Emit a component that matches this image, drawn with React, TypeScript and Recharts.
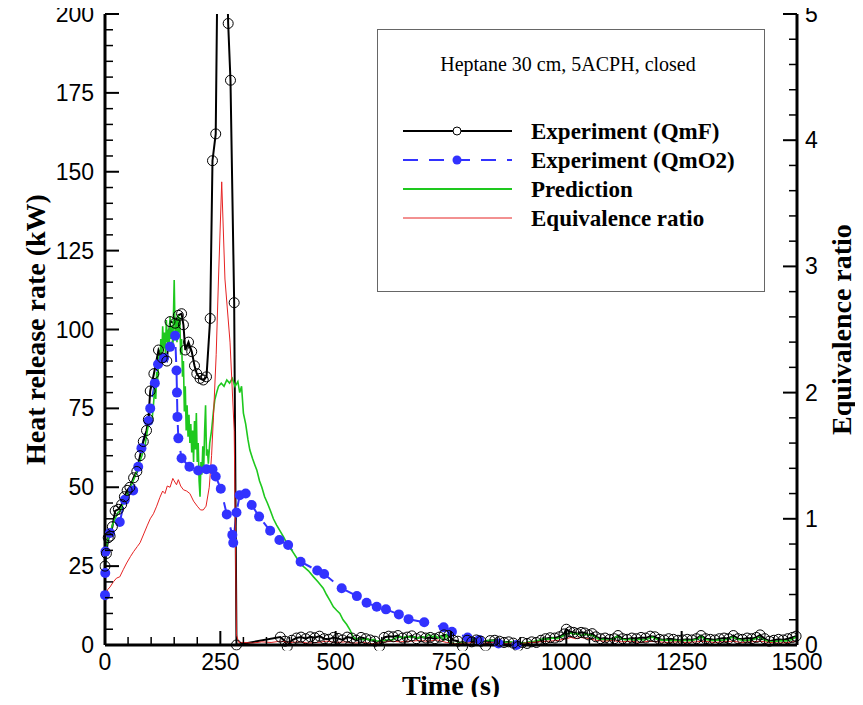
import React from 'react';
import { LineChart, Line, XAxis, YAxis, Legend } from 'recharts';

type P = [number, number];

// Experiment (QmF) — time (s), heat release rate (kW)
const qmfPoints: P[] = [
  [0, 25], [3, 29], [7, 34], [11, 34.5], [16, 37.5], [22, 42.5], [29, 43], [36, 44.5], [42, 47], [48, 49],
  [54, 50], [62, 53], [69, 55], [76, 60], [83, 64.5], [90, 68], [94, 71.5], [98, 80.5], [106, 86], [116, 93.5],
  [124, 91], [134, 90], [141, 102.5], [152, 102], [159, 104.5], [166, 105], [170, 101.5], [174, 93.5], [181, 96], [188, 93],
  [194, 88.5], [199, 86], [206, 84.5], [213, 84], [220, 85], [228, 103.5], [233, 153.5], [240, 162], [250, 300], [267, 197],
  [272, 179], [280, 108.5], [285, 0],
  [380, 2.5], [390, 1.2], [395, -0.5], [405, 1.5], [415, 2.2], [425, 2.5], [435, 2.0], [445, 2.6], [455, 2.3], [465, 2.8],
  [475, 2.0], [485, 1.8], [495, 2.4], [505, 2.1], [515, 1.6], [525, 2.5], [535, 2.2], [545, 1.5], [555, 2.4], [565, 2.0],
  [575, 1.6], [585, 1.2], [595, -0.5], [605, 2.4], [615, 2.8], [625, 2.6], [635, 3.0], [645, 2.2], [655, 2.5], [665, 2.9],
  [675, 2.0], [685, 2.6], [695, 2.2], [705, 2.4], [715, 2.0], [725, 2.5], [735, 3.2], [745, 3.0], [755, 1.5], [765, 1.2],
  [775, -0.5], [785, 1.5], [795, 1.0], [805, 1.6], [815, 1.2], [825, -0.3], [835, 1.4], [845, 1.5], [855, 1.2], [865, 0.8],
  [875, 1.0], [885, 0.6], [895, -0.5], [905, 0.8], [915, 0.5], [925, 1.0], [935, 0.8], [945, 1.5], [955, 2.0], [965, 2.3],
  [975, 2.2], [985, 2.6], [995, 3.5], [1000, 5.0], [1008, 4.2], [1016, 4.0], [1024, 3.6], [1032, 4.0], [1040, 3.8], [1048, 3.2],
  [1056, 3.6], [1064, 2.6], [1074, 2.0], [1084, 2.2], [1094, 1.8], [1104, 2.0], [1112, 3.0], [1122, 2.0], [1132, 1.8], [1142, 2.2],
  [1152, 2.0], [1162, 2.4], [1172, 2.2], [1182, 2.8], [1192, 2.6], [1202, 1.8], [1212, 1.6], [1222, 2.0], [1232, 1.8], [1242, 1.5],
  [1252, 1.6], [1262, 1.8], [1272, 1.6], [1282, 2.0], [1292, 3.0], [1302, 2.0], [1312, 1.8], [1322, 1.6], [1332, 2.0], [1342, 2.2],
  [1352, 2.0], [1362, 3.0], [1372, 2.0], [1382, 1.8], [1392, 2.2], [1402, 2.0], [1412, 2.4], [1420, 3.2], [1430, 2.0], [1440, 1.2],
  [1450, 1.5], [1460, 1.8], [1470, 1.6], [1480, 2.0], [1490, 2.4], [1498, 2.8],
];

// Experiment (QmO2) — time (s), heat release rate (kW)
const qmo2Points: P[] = [
  [0, 15.8], [0.5, 22.8], [1, 29.6], [11, 35.5], [32, 39], [43, 46], [61, 49], [72, 56.5], [79, 62.4], [94, 71],
  [98, 75], [108, 83], [115, 89], [128, 91], [141, 94.5], [152, 98], [155, 87], [156, 80], [157, 72.3], [159, 65.5],
  [166, 59.2], [183, 56.5], [202, 55.3], [220, 55.7], [233, 55.7], [240, 53.4], [251, 49.5], [264, 41.4], [276, 34.9], [278, 32.4],
  [285, 42], [292, 47.5], [305, 48], [318, 44.4], [334, 40.7], [358, 36.2], [378, 33.3], [397, 31.7], [424, 26.4], [460, 23.6],
  [475, 22.5], [513, 18], [546, 15.5], [567, 13.4], [589, 12.1], [609, 11.3], [637, 9.7], [658, 8.2], [692, 7.2], [734, 5.6],
  [752, 4.2], [786, 2.4], [811, 1.6], [853, 0.5], [892, 0],
];

// Prediction — time (s), heat release rate (kW)
const predictionPoints: P[] = [
  [0, 22], [2, 30], [5, 33], [10, 35], [16, 38], [22, 40], [28, 42], [33, 42.5], [40, 45], [46, 47],
  [52, 49], [58, 51], [64, 53], [69, 55], [75, 58], [80, 60], [87, 63.5], [92, 68], [97, 72], [101, 70],
  [105, 76], [108, 82], [110, 78], [112, 86.5], [114, 84], [117, 92], [119, 88], [121, 97], [123, 90], [125, 101],
  [127, 94], [129, 99], [131, 92], [133, 103], [135, 96], [137, 100], [139, 93], [141, 104], [143, 97], [145, 101],
  [147, 95], [150, 115.7], [152, 98], [154, 103], [156, 96], [158, 104.6], [160, 99], [162, 104], [164, 92], [166, 97],
  [168, 85], [170, 90], [172, 74], [174, 82], [176, 68], [178, 76], [180, 66], [182, 73], [184, 64], [186, 70],
  [188, 61], [190, 68], [192, 58], [194, 71], [196, 62], [198, 73.5], [200, 58], [202, 64], [204, 52], [206, 47],
  [208, 58], [210, 54], [212, 63], [214, 56], [216, 68], [218, 76], [220, 60], [222, 62], [224, 57.5], [227, 64],
  [231, 68], [235, 74], [238, 77.7], [242, 80], [246, 82], [252, 83], [258, 82], [264, 84], [270, 83], [276, 84.5],
  [282, 82], [288, 83.5], [292, 80], [296, 82], [300, 73.5], [305, 70], [310, 65], [314, 61.8], [320, 59], [325, 57],
  [329, 55.5], [335, 52], [340, 50], [346, 47], [352, 45], [358, 42.8], [365, 40], [372, 38], [380, 36], [387, 34.3],
  [395, 32], [405, 30], [416, 27.5], [425, 25.5], [433, 24.5], [441, 23.5], [452, 21.6], [462, 20], [473, 18], [480, 16],
  [488, 14], [495, 12.1], [502, 11], [509, 10], [516, 8], [524, 6.5], [531, 4.8], [538, 2.6],
  [545, 1.8], [552, 2.2], [560, 1.6], [568, 2.0], [575, 1.4], [582, 1.8], [590, 1.2], [598, 1.5], [606, 1.3], [614, 1.8],
  [622, 1.5], [630, 2.2], [638, 2.6], [646, 2.2], [654, 2.8], [662, 2.4], [670, 2.6], [678, 2.2], [686, 2.7], [694, 2.3],
  [702, 3.4], [710, 2.6], [716, 3.0], [722, 2.2], [728, 2.8], [734, 1.5], [740, 3.2], [746, 1.0], [752, 0.6], [760, 0.4],
  [770, 0.8], [780, 0.6], [790, 1.6], [798, 1.8], [806, 1.2], [814, 1.6], [822, 1.0], [830, 1.5], [840, 1.4], [850, 1.6],
  [860, 1.2], [870, 0.8], [880, 1.0], [890, 0.6], [900, 0.8], [910, 0.6], [920, 1.0], [930, 1.2], [940, 1.5], [950, 2.0],
  [960, 1.8], [970, 2.2], [980, 2.0], [990, 2.6], [1000, 3.5], [1008, 3.8], [1016, 3.4], [1024, 3.6], [1032, 3.0], [1040, 3.4],
  [1048, 3.2], [1056, 3.0], [1064, 2.4], [1072, 1.6], [1080, 1.8], [1090, 1.5], [1100, 1.8], [1110, 2.8], [1118, 2.0], [1128, 1.6],
  [1138, 1.8], [1148, 1.5], [1158, 1.8], [1168, 1.6], [1178, 2.0], [1186, 2.5], [1196, 1.8], [1206, 1.5], [1216, 1.6], [1226, 1.4],
  [1236, 1.5], [1246, 1.3], [1256, 1.5], [1266, 1.4], [1276, 1.6], [1286, 2.0], [1292, 2.8], [1300, 1.8], [1310, 1.5], [1320, 1.4],
  [1330, 1.6], [1340, 1.5], [1350, 1.8], [1360, 2.5], [1368, 2.0], [1378, 1.6], [1388, 1.4], [1398, 1.6], [1408, 1.8], [1418, 2.5],
  [1426, 1.8], [1436, 1.2], [1446, 1.0], [1456, 1.2], [1466, 1.4], [1476, 1.3], [1486, 1.6], [1494, 2.2], [1500, 2.6],
];

// Equivalence ratio — time (s), ratio (right axis)
const ratioPoints: P[] = [
  [0, 0.28], [2, 0.38], [6, 0.44], [11, 0.46], [18, 0.5], [25, 0.53], [32, 0.54], [40, 0.6], [47, 0.65], [55, 0.7],
  [62, 0.74], [70, 0.78], [76, 0.81], [84, 0.88], [92, 0.95], [98, 1.0], [105, 1.04], [112, 1.1], [119, 1.17], [125, 1.22],
  [130, 1.2], [135, 1.26], [141, 1.25], [147, 1.32], [150, 1.3], [155, 1.27], [159, 1.31], [164, 1.26], [170, 1.23], [177, 1.22],
  [184, 1.2], [192, 1.14], [200, 1.1], [207, 1.07], [213, 1.07], [219, 1.1], [226, 1.25], [231, 1.5], [235, 1.8], [241, 2.3],
  [246, 2.9], [253, 3.67], [260, 2.9], [271, 2.4], [280, 1.7], [283, 0.8], [285, 0.08], [290, 0.02],
  [300, 0.02], [320, 0.015], [340, 0.025], [360, 0.02], [380, 0.03], [400, 0.02], [420, 0.025], [440, 0.015], [460, 0.02], [480, 0.03],
  [500, 0.02], [520, 0.025], [540, 0.015], [560, 0.02], [580, 0.01], [600, 0.02], [620, 0.03], [640, 0.025], [660, 0.03], [680, 0.035],
  [700, 0.03], [720, 0.04], [740, 0.02], [760, 0.01], [780, 0.015], [800, 0.02], [820, 0.015], [840, 0.02], [860, 0.01], [880, 0.015],
  [900, 0.01], [920, 0.02], [940, 0.025], [960, 0.03], [980, 0.035], [1000, 0.05], [1010, 0.06], [1020, 0.05], [1030, 0.06], [1040, 0.055],
  [1050, 0.05], [1060, 0.04], [1080, 0.03], [1100, 0.035], [1120, 0.025], [1140, 0.03], [1160, 0.02], [1180, 0.03], [1200, 0.025], [1220, 0.02],
  [1240, 0.025], [1260, 0.02], [1280, 0.025], [1300, 0.03], [1320, 0.02], [1340, 0.025], [1360, 0.03], [1380, 0.02], [1400, 0.025], [1420, 0.03],
  [1440, 0.02], [1460, 0.015], [1480, 0.02], [1500, 0.03],
];

const xTicks = [
  0, 50, 100, 150, 200, 250, 300, 350, 400, 450, 500, 550, 600, 650, 700, 750, 800, 850, 900, 950,
  1000, 1050, 1100, 1150, 1200, 1250, 1300, 1350, 1400, 1450, 1500,
];
const leftTicks = [
  0, 5, 10, 15, 20, 25, 30, 35, 40, 45, 50, 55, 60, 65, 70, 75, 80, 85, 90, 95, 100,
  105, 110, 115, 120, 125, 130, 135, 140, 145, 150, 155, 160, 165, 170, 175, 180, 185, 190, 195, 200,
];
const rightTicks = [
  0, 0.2, 0.4, 0.6, 0.8, 1, 1.2, 1.4, 1.6, 1.8, 2, 2.2, 2.4, 2.6, 2.8, 3, 3.2, 3.4, 3.6, 3.8,
  4, 4.2, 4.4, 4.6, 4.8, 5,
];

const legendTitle = 'Heptane 30 cm, 5ACPH, closed';
const names = ['Experiment (QmF)', 'Experiment (QmO2)', 'Prediction', 'Equivalence ratio'];

const toRows = (pts: P[]) => pts.map(([t, v]) => ({ t, v }));
const qmfRows = toRows(qmfPoints);
const qmo2Rows = toRows(qmo2Points);
const predictionRows = toRows(predictionPoints);
const ratioRows = toRows(ratioPoints);

const SANS = '"Liberation Sans", Arial, sans-serif';
const SERIF = '"Liberation Serif", "Times New Roman", serif';
const BLUE = '#3232ff';
const GREEN = '#1ec81e';
const RED = '#e62222';
const DASH = '15 11';

const isMult = (v: number, step: number) => Math.abs(v / step - Math.round(v / step)) < 1e-6;

function LeftTick(props: any) {
  const { x, y, payload } = props;
  const v = payload.value;
  const major = isMult(v, 25);
  return (
    <g>
      <line x1={x} y1={y} x2={x + (major ? 14 : 8)} y2={y} stroke="#000" strokeWidth={major ? 2 : 1.5} />
      {major && (
        <text x={x - 11} y={y} dy={8} textAnchor="end" fontSize={23} fontFamily={SANS} fill="#000">
          {v}
        </text>
      )}
    </g>
  );
}

function RightTick(props: any) {
  const { x, y, payload } = props;
  const v = payload.value;
  const major = isMult(v, 1);
  return (
    <g>
      <line x1={x} y1={y} x2={x - (major ? 14 : 8)} y2={y} stroke="#000" strokeWidth={major ? 2 : 1.5} />
      {major && (
        <text x={x + 8} y={y} dy={8} textAnchor="start" fontSize={23} fontFamily={SANS} fill="#000">
          {Math.round(v)}
        </text>
      )}
    </g>
  );
}

function BottomTick(props: any) {
  const { x, y, payload } = props;
  const v = payload.value;
  const major = isMult(v, 250);
  return (
    <g>
      <line x1={x} y1={y} x2={x} y2={y - (major ? 14 : 8)} stroke="#000" strokeWidth={major ? 2 : 1.5} />
      {major && (
        <text x={x} y={y + 25} textAnchor="middle" fontSize={23} fontFamily={SANS} fill="#000">
          {v}
        </text>
      )}
    </g>
  );
}

function LeftTitle(props: any) {
  const vb = props.viewBox || { x: 0, y: 0, width: 0, height: 0 };
  const cx = vb.x + 35;
  const cy = vb.y + vb.height / 2;
  return (
    <text x={cx} y={cy} dy={10} transform={`rotate(-90 ${cx} ${cy})`} textAnchor="middle"
      fontFamily={SERIF} fontWeight="bold" fontSize={28} fill="#000">
      Heat release rate (kW)
    </text>
  );
}

function RightTitle(props: any) {
  const vb = props.viewBox || { x: 0, y: 0, width: 0, height: 0 };
  const cx = vb.x + 44;
  const cy = vb.y + vb.height / 2;
  return (
    <text x={cx} y={cy} dy={10} transform={`rotate(-90 ${cx} ${cy})`} textAnchor="middle"
      fontFamily={SERIF} fontWeight="bold" fontSize={28} fill="#000">
      Equivalence ratio
    </text>
  );
}

function BottomTitle(props: any) {
  const vb = props.viewBox || { x: 0, y: 0, width: 0, height: 0 };
  const cx = vb.x + vb.width / 2;
  const cy = vb.y + 42;
  return (
    <text x={cx} y={cy} dy={8} textAnchor="middle" fontFamily={SERIF} fontWeight="bold" fontSize={28} fill="#000">
      Time (s)
    </text>
  );
}

const legendStyles = [
  { color: '#000', width: 2, dash: undefined as string | undefined, marker: 'open' },
  { color: BLUE, width: 2, dash: DASH, marker: 'filled' },
  { color: GREEN, width: 2, dash: undefined, marker: 'none' },
  { color: RED, width: 1, dash: undefined, marker: 'none' },
];

function LegendBox() {
  return (
    <svg width={388} height={263} style={{ display: 'block' }}>
      <rect x={0.5} y={0.5} width={387} height={262} fill="#fff" stroke="#666" strokeWidth={1} />
      <text x={191} y={42} textAnchor="middle" fontFamily={SERIF} fontSize={20} fill="#000">
        {legendTitle}
      </text>
      {names.map((name, i) => {
        const s = legendStyles[i];
        const cy = 102 + i * 29;
        return (
          <g key={name}>
            <line x1={26} x2={135} y1={cy} y2={cy} stroke={s.color} strokeWidth={s.width} strokeDasharray={s.dash} />
            {s.marker === 'open' && <circle cx={80} cy={cy} r={4} fill="#fff" stroke="#000" strokeWidth={1} />}
            {s.marker === 'filled' && <circle cx={80} cy={cy} r={4.5} fill={BLUE} stroke="none" />}
            <text x={154} y={cy} dy={8} fontFamily={SERIF} fontWeight="bold" fontSize={23} fill="#000">
              {name}
            </text>
          </g>
        );
      })}
    </svg>
  );
}

export default function App() {
  return (
    <div style={{ margin: '-8px 0 -8px -8px', width: 863, height: 705 }}>
      <LineChart width={863} height={705} margin={{ top: 14, right: 0, bottom: 0, left: 0 }}>
        <XAxis
          dataKey="t"
          type="number"
          domain={[0, 1500]}
          ticks={xTicks}
          interval={0}
          allowDataOverflow
          height={60}
          tickSize={0}
          tickMargin={0}
          tickLine={false}
          tick={<BottomTick />}
          axisLine={{ stroke: '#000', strokeWidth: 3 }}
          label={BottomTitle}
        />
        <XAxis
          xAxisId="top"
          orientation="top"
          type="number"
          domain={[0, 1500]}
          height={0}
          tick={false}
          tickLine={false}
          axisLine={{ stroke: '#000', strokeWidth: 3 }}
        />
        <YAxis
          yAxisId="left"
          type="number"
          domain={[0, 200]}
          ticks={leftTicks}
          interval={0}
          allowDataOverflow
          width={105}
          tickSize={0}
          tickMargin={0}
          tickLine={false}
          tick={<LeftTick />}
          axisLine={{ stroke: '#000', strokeWidth: 3 }}
          label={LeftTitle}
        />
        <YAxis
          yAxisId="right"
          orientation="right"
          type="number"
          domain={[0, 5]}
          ticks={rightTicks}
          interval={0}
          allowDataOverflow
          width={66}
          tickSize={0}
          tickMargin={0}
          tickLine={false}
          tick={<RightTick />}
          axisLine={{ stroke: '#000', strokeWidth: 3 }}
          label={RightTitle}
        />
        <Line
          yAxisId="left"
          data={qmo2Rows}
          dataKey="v"
          name={names[1]}
          type="linear"
          stroke={BLUE}
          strokeWidth={2}
          strokeDasharray={DASH}
          dot={{ r: 5, fill: BLUE, stroke: 'none', clipDot: false } as any}
          activeDot={false}
          isAnimationActive={false}
        />
        <Line
          yAxisId="left"
          data={qmfRows}
          dataKey="v"
          name={names[0]}
          type="linear"
          stroke="#000"
          strokeWidth={2}
          dot={{ r: 5, fill: 'none', stroke: '#000', strokeWidth: 1, clipDot: false } as any}
          activeDot={false}
          isAnimationActive={false}
        />
        <Line
          yAxisId="left"
          data={predictionRows}
          dataKey="v"
          name={names[2]}
          type="linear"
          stroke={GREEN}
          strokeWidth={1.6}
          dot={false}
          activeDot={false}
          isAnimationActive={false}
        />
        <Line
          yAxisId="right"
          data={ratioRows}
          dataKey="v"
          name={names[3]}
          type="linear"
          stroke={RED}
          strokeWidth={1}
          dot={false}
          activeDot={false}
          isAnimationActive={false}
        />
        <Legend
          content={LegendBox as any}
          layout="vertical"
          align="center"
          verticalAlign="middle"
          wrapperStyle={{ left: 377, top: 29, width: 388, height: 263 }}
        />
      </LineChart>
    </div>
  );
}
